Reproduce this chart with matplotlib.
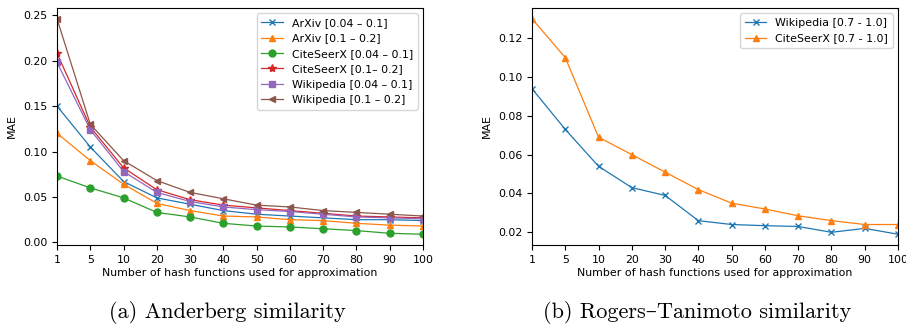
import numpy as np
import matplotlib
matplotlib.use('Agg')
import matplotlib.pyplot as plt

# x axis: number of hash functions (plotted at equal spacing)
hashes = ['1', '5', '10', '20', '30', '40', '50', '60', '70', '80', '90', '100']

# (a) Anderberg similarity
arxiv_low = [0.150, 0.105, 0.067, 0.049, 0.042, 0.035, 0.031, 0.029, 0.027, 0.025, 0.025, 0.024]
arxiv_high = [0.120, 0.090, 0.064, 0.043, 0.035, 0.029, 0.028, 0.025, 0.024, 0.021, 0.019, 0.018]
cite_low = [0.073, 0.060, 0.049, 0.033, 0.028, 0.021, 0.018, 0.017, 0.015, 0.013, 0.010, 0.009]
cite_high = [0.208, 0.127, 0.082, 0.058, 0.047, 0.041, 0.038, 0.035, 0.032, 0.029, 0.028, 0.027]
wiki_low = [0.198, 0.124, 0.078, 0.055, 0.045, 0.039, 0.036, 0.034, 0.031, 0.028, 0.027, 0.026]
wiki_high = [0.246, 0.130, 0.090, 0.068, 0.055, 0.048, 0.041, 0.039, 0.035, 0.033, 0.031, 0.029]

# (b) Rogers-Tanimoto similarity
wiki_rt = [0.094, 0.073, 0.054, 0.043, 0.039, 0.026, 0.024, 0.0234, 0.023, 0.020, 0.022, 0.019]
cite_rt = [0.130, 0.110, 0.069, 0.060, 0.051, 0.042, 0.035, 0.032, 0.0285, 0.026, 0.024, 0.024]

left_series = [
    (arxiv_low, 'x', 'ArXiv [0.04 – 0.1]'),
    (arxiv_high, '^', 'ArXiv [0.1 – 0.2]'),
    (cite_low, 'o', 'CiteSeerX [0.04 – 0.1]'),
    (cite_high, '*', 'CiteSeerX [0.1– 0.2]'),
    (wiki_low, 's', 'Wikipedia [0.04 – 0.1]'),
    (wiki_high, '<', 'Wikipedia [0.1 – 0.2]'),
]
right_series = [
    (wiki_rt, 'x', 'Wikipedia [0.7 - 1.0]'),
    (cite_rt, '^', 'CiteSeerX [0.7 - 1.0]'),
]

FS = 7.9
xpos = np.arange(len(hashes))

fig = plt.figure(figsize=(9.06, 3.24), dpi=100)
ax1 = fig.add_axes([57 / 906, 1 - 245 / 324, 366 / 906, 237 / 324])
ax2 = fig.add_axes([532 / 906, 1 - 245 / 324, 366 / 906, 237 / 324])


def draw(ax, series):
    for i, (vals, mk, lab) in enumerate(series):
        ms = 6 if mk == '*' else 5
        ax.plot(xpos, vals, marker=mk, color='C%d' % i, lw=0.9, ms=ms, label=lab)
    ax.set_xlim(0, len(hashes) - 1)
    ax.set_xticks(xpos)
    ax.set_xticklabels(hashes)
    ax.tick_params(labelsize=FS)
    ax.set_xlabel('Number of hash functions used for approximation', fontsize=FS, labelpad=2)
    ax.set_ylabel('MAE', fontsize=FS)
    ax.legend(loc='upper right', fontsize=FS)


draw(ax1, left_series)
draw(ax2, right_series)
ax1.set_yticks([0.0, 0.05, 0.10, 0.15, 0.20, 0.25])
ax1.yaxis.set_major_formatter(matplotlib.ticker.FormatStrFormatter('%.2f'))

cap_font = ['cmr10', 'DejaVu Serif']
fig.text(227 / 906, 1 - 312 / 324, '(a) Anderberg similarity', ha='center', va='center',
         fontsize=16, family=cap_font)
fig.text(697 / 906, 1 - 312 / 324, '(b) Rogers–Tanimoto similarity', ha='center', va='center',
         fontsize=16, family=cap_font)

fig.savefig('out.png', dpi=100)
